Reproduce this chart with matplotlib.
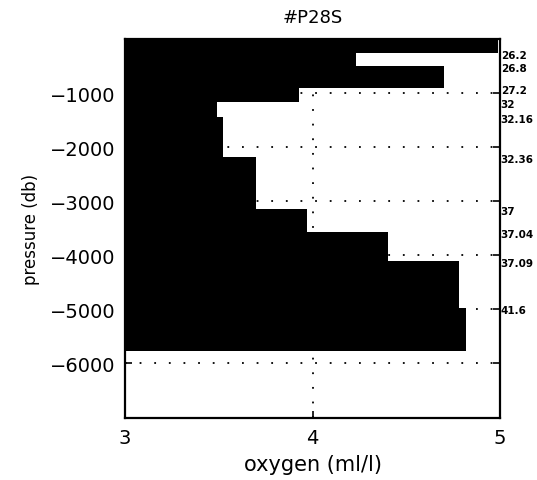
import matplotlib
matplotlib.use("Agg")
import matplotlib.pyplot as plt
from matplotlib import transforms

# Layer boundaries (pressure, db) from surface downward
layer_bounds = [0, -259, -500, -907, -1161, -1439, -2180, -3148, -3569, -4106, -4969, -5772]
# Oxygen value of each layer (ml/l)
oxygen = [4.99, 4.23, 4.70, 3.93, 3.49, 3.52, 3.70, 3.97, 4.40, 4.78, 4.82]
# Density labels at the layer boundaries (right side)
density_labels = ["26.2", "26.8", "27.2", "32", "32.16", "32.36", "37", "37.04", "37.09", "41.6"]
xticks = [3, 4, 5]
yticks = [-6000, -5000, -4000, -3000, -2000, -1000]

plt.rcParams['font.family'] = ['DejaVu Sans']

fig = plt.figure(figsize=(5.37, 4.81), dpi=100)
ax = fig.add_axes([0.2328, 0.1289, 0.6983, 0.7879])

x0 = 3
for i, ox in enumerate(oxygen):
    top = layer_bounds[i]
    bot = layer_bounds[i + 1]
    ax.barh(bot, ox - x0, height=top - bot, left=x0, align='edge',
            color='black', edgecolor='none', zorder=2)

ax.set_xlim(3, 5)
ax.set_ylim(-7010, 0)
ax.set_xticks(xticks)
ax.set_yticks(yticks)
ax.set_yticklabels([str(t).replace('-', '\u2212') for t in yticks])

dot = (0, (1, 7.1))
for t in yticks:
    ax.axhline(t, color='black', lw=1.3, linestyle=dot, zorder=1)
ax.axvline(4, color='black', lw=1.3, linestyle=dot, zorder=1)

for s in ax.spines.values():
    s.set_linewidth(1.6)
    s.set_zorder(5)
ax.tick_params(direction='in', length=5, width=1.2, top=True, right=True,
               labelsize=14, pad=7)

tr = transforms.blended_transform_factory(ax.transAxes, ax.transData)
tr = transforms.offset_copy(tr, fig=fig, x=0.5, y=-1.5, units='points')
for lab, p in zip(density_labels, layer_bounds[1:]):
    ax.text(1.0, p, lab, transform=tr, ha='left', va='center',
            fontsize=7.5, fontweight='bold', clip_on=False)

ax.set_xlabel('oxygen (ml/l)', fontsize=15, labelpad=5)
ax.set_ylabel('pressure (db)', fontsize=12, labelpad=7)
ax.set_title('#P28S', fontsize=13, pad=12)

fig.savefig('out.png', dpi=100)
